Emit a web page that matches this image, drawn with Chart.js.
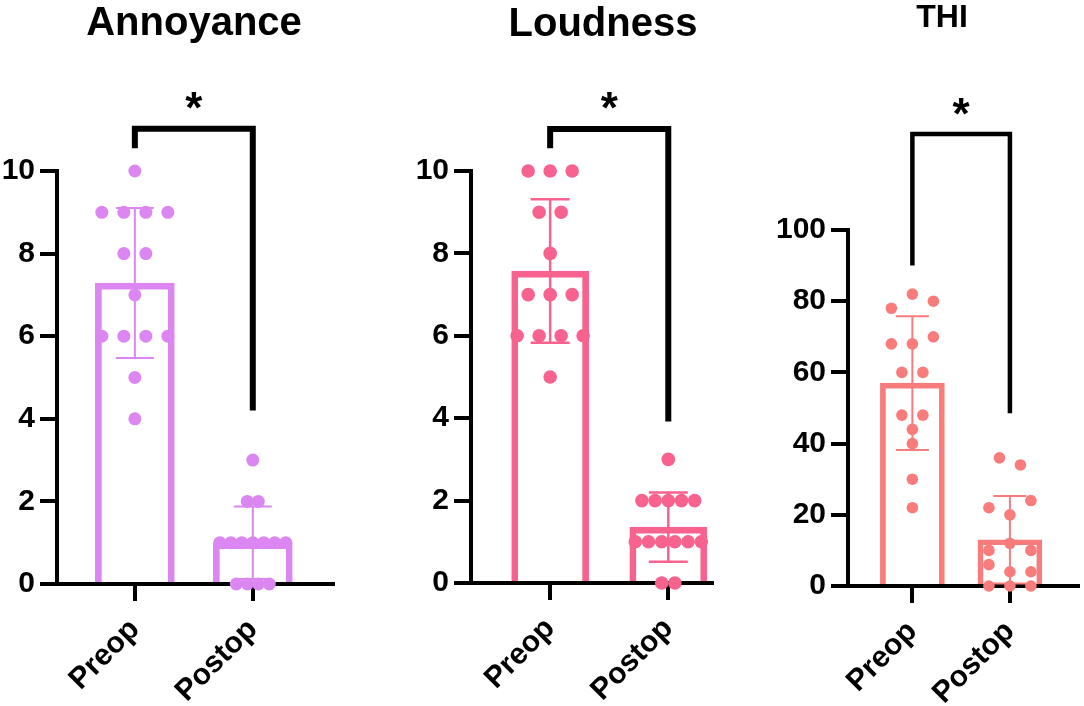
<!DOCTYPE html>
<html>
<head>
<meta charset="utf-8">
<script src="https://cdn.jsdelivr.net/npm/chart.js@4.4.1/dist/chart.umd.min.js"></script>
<style>
  html, body { margin: 0; padding: 0; background: #ffffff; }
  #wrap { position: relative; width: 1084px; height: 706px; overflow: hidden; background: #ffffff; }
  #wrap canvas { position: absolute; left: 0; top: 0; }
</style>
</head>
<body>
<div id="wrap">
  <canvas id="cAnnoy" width="1084" height="706"></canvas>
  <canvas id="cLoud" width="1084" height="706"></canvas>
  <canvas id="cThi" width="1084" height="706"></canvas>
</div>
<script>
// ---------------- DATA ----------------
const categories = ['Preop', 'Postop'];
const panelTitles = ['Annoyance', 'Loudness', 'THI'];

const annoyancePreop  = [10, 9, 9, 9, 9, 8, 8, 7, 6, 6, 6, 6, 5, 4];
const annoyancePostop = [3, 2, 2, 1, 1, 1, 1, 1, 1, 1, 0, 0, 0, 0];

const loudnessPreop  = [10, 10, 10, 9, 9, 8, 7, 7, 7, 6, 6, 6, 6, 5];
const loudnessPostop = [3, 2, 2, 2, 2, 2, 1, 1, 1, 1, 1, 1, 0, 0];

const thiPreop  = [78, 82, 80, 68, 68, 70, 60, 60, 48, 48, 44, 40, 30, 22];
const thiPostop = [36, 34, 22, 20, 24, 10, 12, 10, 6, 4, 4, 0, 0, 0];

const scoreTicks = [0, 2, 4, 6, 8, 10];
const thiTicks   = [0, 20, 40, 60, 80, 100];

const significance = ['*', '*', '*'];

// ---------------- HELPERS ----------------
const FONT = "Arial, 'Liberation Sans', Helvetica, sans-serif";
function mean(a) { return a.reduce((s, v) => s + v, 0) / a.length; }
function sd(a) {
  const m = mean(a);
  return Math.sqrt(a.reduce((s, v) => s + (v - m) * (v - m), 0) / (a.length - 1));
}

// beeswarm layout of the scatter points (pixel space, computed from the scales)
const swarmPlugin = {
  id: 'swarm',
  afterDatasetsUpdate(chart, args, opts) {
    const meta = chart.getDatasetMeta(1);
    const ds = chart.data.datasets[1].data;
    const xs = chart.scales.x, ys = chart.scales.y;
    categories.forEach((c, ci) => {
      const idx = ds.map((d, i) => i).filter(i => ds[i].x === ci)
        .sort((a, b) => (ds[b].y - ds[a].y) || (a - b));
      const rows = [];
      let prev = null;
      idx.forEach(i => {
        const py = ys.getPixelForValue(ds[i].y);
        if (prev !== null && py - prev < opts.rowGap) rows[rows.length - 1].push(i);
        else rows.push([i]);
        prev = py;
      });
      rows.forEach(r => r.sort((a, b) => a - b));
      const maxN = Math.max(...rows.map(r => r.length));
      const s = maxN > 1 ? Math.min(opts.step, opts.span / (maxN - 1)) : 0;
      const cx = xs.getPixelForValue(ci);
      rows.forEach(r => r.forEach((i, k) => {
        if (meta.data[i]) meta.data[i].x = cx + (k - (r.length - 1) / 2) * s;
      }));
    });
  }
};

// mean +/- SD error bars drawn after the bar dataset
const errorPlugin = {
  id: 'errbars',
  afterDatasetDraw(chart, args, opts) {
    if (args.index !== 0) return;
    const ctx = chart.ctx, xs = chart.scales.x, ys = chart.scales.y;
    const groups = opts.groups;
    ctx.save();
    ctx.strokeStyle = opts.color;
    ctx.lineWidth = opts.lineWidth;
    groups.forEach((g, ci) => {
      const m = mean(g), e = sd(g);
      const x = xs.getPixelForValue(ci);
      const yHi = ys.getPixelForValue(m + e), yLo = ys.getPixelForValue(m - e);
      const hw = opts.capWidth / 2;
      ctx.beginPath();
      ctx.moveTo(x, yHi); ctx.lineTo(x, yLo);
      ctx.moveTo(x - hw, yHi); ctx.lineTo(x + hw, yHi);
      ctx.moveTo(x - hw, yLo); ctx.lineTo(x + hw, yLo);
      ctx.stroke();
    });
    ctx.restore();
  }
};

// significance bracket + asterisk, and panel title
const annotPlugin = {
  id: 'annot',
  afterDraw(chart, args, opts) {
    const ctx = chart.ctx, xs = chart.scales.x, ys = chart.scales.y;
    const x0 = xs.getPixelForValue(0), x1 = xs.getPixelForValue(1);
    const yTop = ys.getPixelForValue(opts.top);
    ctx.save();
    ctx.strokeStyle = '#000';
    ctx.lineWidth = opts.lineWidth;
    ctx.lineJoin = 'miter';
    ctx.lineCap = 'butt';
    ctx.beginPath();
    ctx.moveTo(x0, ys.getPixelForValue(opts.left));
    ctx.lineTo(x0, yTop);
    ctx.lineTo(x1, yTop);
    ctx.lineTo(x1, ys.getPixelForValue(opts.right));
    ctx.stroke();
    ctx.fillStyle = '#000';
    ctx.textAlign = 'center';
    ctx.textBaseline = 'alphabetic';
    ctx.font = 'bold ' + opts.starSize + 'px ' + FONT;
    ctx.fillText(opts.star, (x0 + x1) / 2, yTop - opts.lineWidth / 2 + opts.starDy);
    ctx.font = 'bold ' + opts.titleSize + 'px ' + FONT;
    ctx.fillText(opts.title, opts.titleX, opts.titleY);
    ctx.restore();
  }
};

function makePanel(id, p) {
  const groups = [p.pre, p.post];
  const points = [];
  groups.forEach((g, ci) => g.forEach(v => points.push({ x: ci, y: v })));
  const bars = groups.map((g, ci) => ({ x: ci, y: mean(g) }));
  const tickFont = { family: FONT, size: 30, weight: 'bold' };
  return new Chart(document.getElementById(id), {
    type: 'bar',
    data: {
      datasets: [
        {
          type: 'bar', data: bars,
          backgroundColor: 'rgba(255,255,255,0)',
          borderColor: p.color, borderWidth: p.barBorder, borderSkipped: 'start',
          barThickness: p.barW, order: 2, clip: false
        },
        {
          type: 'scatter', data: points,
          backgroundColor: p.color, borderColor: p.color, borderWidth: 0,
          pointRadius: p.r, pointHoverRadius: p.r, order: 1, clip: false
        }
      ]
    },
    options: {
      responsive: false, animation: false, events: [],
      layout: { padding: { left: p.padL, right: p.padR, top: p.top, bottom: 0 } },
      plugins: {
        legend: { display: false }, tooltip: { enabled: false }, title: { display: false },
        swarm: { rowGap: 10, step: p.step, span: 66 },
        errbars: { groups: groups, color: p.color, lineWidth: p.errW, capWidth: p.capW },
        annot: {
          top: p.brTop, left: p.brLeft, right: p.brRight, lineWidth: p.brW,
          star: p.star, starSize: 44, starDy: -3,
          title: p.title, titleSize: p.titleSize, titleX: p.titleX, titleY: p.titleY
        }
      },
      scales: {
        x: {
          type: 'linear', min: p.xMin, max: p.xMax, offset: false,
          afterBuildTicks: s => { s.ticks = categories.map((c, i) => ({ value: i })); },
          afterFit: s => { s.height = p.xAxisH; },
          ticks: {
            autoSkip: false, maxRotation: 45, minRotation: 45, color: '#000',
            font: tickFont, padding: 11,
            callback: v => categories[v]
          },
          grid: { offset: false, drawOnChartArea: false, drawTicks: true, tickLength: 17, lineWidth: 4, color: '#000' },
          border: { display: true, color: '#000', width: 4 }
        },
        y: {
          type: 'linear', min: 0, max: p.ticks[p.ticks.length - 1],
          afterBuildTicks: s => { s.ticks = p.ticks.map(v => ({ value: v })); },
          afterFit: s => { s.width = p.yAxisW; },
          ticks: { color: '#000', font: tickFont, padding: 5, callback: v => String(v) },
          grid: { offset: false, drawOnChartArea: false, drawTicks: true, tickLength: 17, lineWidth: 4, color: '#000' },
          border: { display: true, color: '#000', width: 4 }
        }
      }
    },
    plugins: [swarmPlugin, errorPlugin, annotPlugin]
  });
}

makePanel('cAnnoy', {
  pre: annoyancePreop, post: annoyancePostop, ticks: scoreTicks,
  color: '#DC86F2', title: panelTitles[0], star: significance[0],
  titleSize: 40, titleX: 194, titleY: 35,
  padL: 0, yAxisW: 57, padR: 1084 - 333, top: 171, xAxisH: 706 - 584,
  xMin: -0.66, xMax: 1.68,
  barW: 79, barBorder: 6, r: 6.5, step: 22, errW: 2, capW: 38,
  brTop: 11.02, brLeft: 10.55, brRight: 4.2, brW: 6
});

makePanel('cLoud', {
  pre: loudnessPreop, post: loudnessPostop, ticks: scoreTicks,
  color: '#F8628F', title: panelTitles[1], star: significance[1],
  titleSize: 40, titleX: 603, titleY: 36,
  padL: 380, yAxisW: 91, padR: 1084 - 712, top: 171, xAxisH: 706 - 583,
  xMin: -0.67, xMax: 1.37,
  barW: 77, barBorder: 6, r: 6.8, step: 22, errW: 2.5, capW: 39,
  brTop: 11.02, brLeft: 10.55, brRight: 3.92, brW: 6
});

makePanel('cThi', {
  pre: thiPreop, post: thiPostop, ticks: thiTicks,
  color: '#F87C7C', title: panelTitles[2], star: significance[2],
  titleSize: 32, titleX: 942, titleY: 27,
  padL: 760, yAxisW: 88, padR: 0, top: 230, xAxisH: 706 - 586,
  xMin: -0.66, xMax: 1.70,
  barW: 64, barBorder: 5, r: 5.8, step: 21, errW: 2, capW: 33,
  brTop: 127, brLeft: 90, brRight: 48.5, brW: 4.5
});
</script>
</body>
</html>
